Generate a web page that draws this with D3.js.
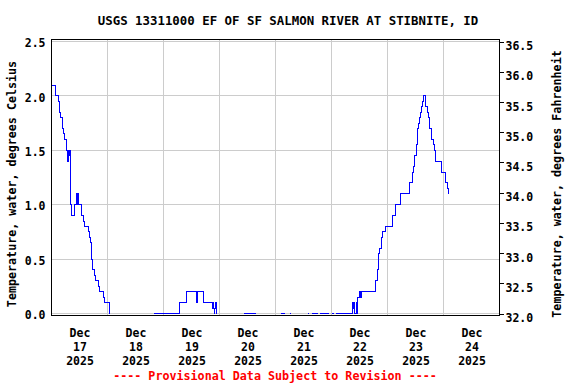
<!DOCTYPE html>
<html>
<head>
<meta charset="utf-8">
<script src="https://cdn.jsdelivr.net/npm/d3@7"></script>
<style>
  body { margin: 0; background: #fff; }
  svg text { font-family: "DejaVu Sans Mono", monospace; font-weight: bold; }
</style>
</head>
<body>
<svg width="576" height="384"></svg>
<script>
// water temperature, 15-min readings (null = gap in record)
var times = [
  "12-17 00:00","12-17 01:45","12-17 03:00","12-17 03:30","12-17 04:00","12-17 04:30","12-17 04:45","12-17 05:15",
  "12-17 05:45","12-17 06:30","12-17 06:45","12-17 07:00","12-17 07:15","12-17 07:30","12-17 07:45","12-17 08:00",
  "12-17 08:15","12-17 08:30","12-17 09:45","12-17 10:00","12-17 10:45","12-17 11:00","12-17 11:15","12-17 11:30",
  "12-17 11:45","12-17 13:00","12-17 13:45","12-17 14:15","12-17 15:45","12-17 16:15","12-17 16:30","12-17 17:00",
  "12-17 17:15","12-17 17:45","12-17 18:30","12-17 19:00","12-17 20:00","12-17 20:30","12-17 22:15","12-17 22:30",
  "12-18 00:45","12-18 01:00","12-18 01:15","12-18 01:30",
  "12-18 19:45","12-19 07:00","12-19 09:45","12-19 14:00","12-19 14:15","12-19 14:30","12-19 14:45","12-19 17:15",
  "12-19 21:00","12-19 21:15","12-19 21:30","12-19 21:45","12-19 22:00","12-19 22:15","12-19 22:30","12-19 22:45","12-19 23:00",
  "12-20 10:30","12-20 15:45","12-20 16:00",
  "12-21 02:30","12-21 04:15","12-21 04:30",
  "12-21 06:00","12-21 06:30","12-21 06:45",
  "12-21 14:00","12-21 14:15","12-21 14:30",
  "12-21 15:45","12-21 18:00","12-21 18:15",
  "12-21 19:00","12-21 22:45","12-21 23:00",
  "12-22 00:00","12-22 01:00","12-22 01:15",
  "12-22 02:00","12-22 09:00","12-22 09:15","12-22 09:30","12-22 09:45","12-22 10:00","12-22 10:30","12-22 10:45",
  "12-22 11:00","12-22 12:00","12-22 12:15","12-22 12:30","12-22 12:45","12-22 13:00","12-22 19:00","12-22 19:30",
  "12-22 19:45","12-22 20:15","12-22 20:30","12-22 21:15","12-22 22:00","12-22 23:00","12-23 02:00","12-23 03:30",
  "12-23 05:30","12-23 09:30","12-23 10:45","12-23 11:15","12-23 11:45","12-23 12:15","12-23 12:45","12-23 13:15",
  "12-23 13:45","12-23 14:00","12-23 14:30","12-23 15:00","12-23 15:15","12-23 16:15","12-23 17:00","12-23 17:30",
  "12-23 18:00","12-23 18:45","12-23 19:30","12-23 20:00","12-23 20:30","12-23 23:15","12-24 01:00","12-24 01:30",
  "12-24 02:15"
];
var tempC = [
  2.1, 2.0, 1.95, 1.85, 1.8, 1.75, 1.7, 1.65,
  1.6, 1.5, 1.45, 1.4, 1.5, 1.45, 1.5, 1.15,
  1.0, 0.9, 0.95, 1.0, 1.1, 1.0, 1.1, 1.05,
  1.0, 0.9, 0.85, 0.8, 0.75, 0.7, 0.65, 0.6,
  0.5, 0.4, 0.35, 0.3, 0.25, 0.2, 0.15, 0.1,
  0.05, 0.0, 0.0, null,
  0.0, 0.1, 0.2, 0.1, 0.2, 0.1, 0.2, 0.1,
  0.05, 0.1, 0.05, 0.0, 0.05, 0.1, 0.0, 0.0, null,
  0.0, 0.0, null,
  0.0, 0.0, null,
  0.0, 0.0, null,
  0.0, 0.0, null,
  0.0, 0.0, null,
  0.0, 0.0, null,
  0.0, 0.0, null,
  0.0, 0.1, 0.05, 0.1, 0.05, 0.0, 0.1, 0.0,
  0.15, 0.2, 0.15, 0.2, 0.15, 0.2, 0.3, 0.35,
  0.4, 0.55, 0.6, 0.7, 0.75, 0.8, 0.9, 1.0,
  1.1, 1.2, 1.3, 1.35, 1.45, 1.55, 1.7, 1.75,
  1.8, 1.85, 1.9, 1.95, 2.0, 1.9, 1.85, 1.8,
  1.7, 1.6, 1.55, 1.5, 1.4, 1.3, 1.2, 1.15,
  1.1
];
var dayLabels = ["12-17","12-18","12-19","12-20","12-21","12-22","12-23","12-24"];
var celsiusTicks = [0, 0.5, 1.0, 1.5, 2.0, 2.5];
var fahrenheitTicks = [32, 32.5, 33, 33.5, 34, 34.5, 35, 35.5, 36, 36.5];

var title = "USGS 13311000 EF OF SF SALMON RIVER AT STIBNITE, ID";
var leftLabel = "Temperature, water, degrees Celsius";
var rightLabel = "Temperature, water, degrees Fahrenheit";
var footer = "---- Provisional Data Subject to Revision ----";

var parse = d3.utcParse("%Y-%m-%d %H:%M");
var data = times.map(function(t, i) { return {t: parse("2025-" + t), v: tempC[i]}; });

var svg = d3.select("svg");
var plotL = 51.5, plotR = 499.5, plotT = 39.5, plotB = 315.5;

var x = d3.scaleUtc()
    .domain([parse("2025-12-17 00:00"), parse("2025-12-25 00:00")])
    .range([plotL, plotR]);
var y = d3.scaleLinear().domain([0, 2.5]).range([313.5, 41.5]);
var yF = d3.scaleLinear().domain([32, 36.5]).range([313.5, 41.5]);

// grid
var grid = svg.append("g").attr("stroke", "#cccccc").attr("shape-rendering", "crispEdges");
grid.selectAll("line.h")
    .data(celsiusTicks)
    .enter().append("line")
    .attr("x1", plotL).attr("x2", plotR)
    .attr("y1", function(d) { return y(d); }).attr("y2", function(d) { return y(d); });
grid.selectAll("line.v")
    .data(d3.utcDay.range(parse("2025-12-18 00:00"), parse("2025-12-25 00:00")))
    .enter().append("line")
    .attr("y1", plotT).attr("y2", plotB)
    .attr("x1", function(d) { return x(d); }).attr("x2", function(d) { return x(d); });

// data line
var line = d3.line()
    .defined(function(d) { return d.v !== null; })
    .x(function(d) { return x(d.t); })
    .y(function(d) { return y(d.v); })
    .curve(d3.curveStepAfter);

svg.append("path")
    .datum(data)
    .attr("fill", "none")
    .attr("stroke", "#0000ff")
    .attr("stroke-width", 1)
    .attr("shape-rendering", "crispEdges")
    .attr("d", line);

// frame
svg.append("rect")
    .attr("x", plotL).attr("y", plotT)
    .attr("width", plotR - plotL).attr("height", plotB - plotT)
    .attr("fill", "none").attr("stroke", "#000")
    .attr("shape-rendering", "crispEdges");

// left axis
var gl = svg.append("g")
    .attr("transform", "translate(" + plotL + ",0)")
    .call(d3.axisLeft(y).tickValues(celsiusTicks).tickFormat(d3.format(".1f")).tickSize(0).tickPadding(6));
gl.select(".domain").remove();
gl.selectAll("text").attr("font-size", 11.5).attr("dy", "0.45em").attr("fill", "#000");

// right axis
var gr = svg.append("g")
    .attr("transform", "translate(" + plotR + ",0)")
    .call(d3.axisRight(yF).tickValues(fahrenheitTicks).tickFormat(d3.format(".1f")).tickSize(4).tickPadding(2));
gr.select(".domain").remove();
gr.selectAll("line").attr("stroke", "#000").attr("shape-rendering", "crispEdges");
gr.selectAll("text").attr("font-size", 11.5).attr("dy", "0.7em").attr("fill", "#000");

// bottom axis: day labels at noon
var gb = svg.append("g")
    .attr("transform", "translate(0," + plotB + ")")
    .call(d3.axisBottom(x)
        .tickValues(dayLabels.map(function(d) { return parse("2025-" + d + " 12:00"); }))
        .tickSize(0).tickFormat(""));
gb.select(".domain").remove();
gb.selectAll(".tick text").remove();
gb.selectAll(".tick").each(function(d) {
  var t = d3.select(this).append("text")
      .attr("fill", "#000").attr("font-size", 11.5).attr("text-anchor", "middle");
  [d3.utcFormat("%b")(d), d3.utcFormat("%d")(d), d3.utcFormat("%Y")(d)].forEach(function(s, i) {
    t.append("tspan").attr("x", 0).attr("y", 21.5 + i * 14).text(s);
  });
});

// titles
svg.append("text")
    .attr("x", 288).attr("y", 25)
    .attr("text-anchor", "middle").attr("font-size", 12.4)
    .text(title);

svg.append("text")
    .attr("transform", "translate(16,184) rotate(-90)")
    .attr("text-anchor", "middle").attr("font-size", 11.7)
    .text(leftLabel);

svg.append("text")
    .attr("transform", "translate(561,184) rotate(-90)")
    .attr("text-anchor", "middle").attr("font-size", 11.7)
    .text(rightLabel);

svg.append("text")
    .attr("x", 275).attr("y", 380)
    .attr("text-anchor", "middle").attr("font-size", 11.7)
    .attr("fill", "#ff0000")
    .text(footer);
</script>
</body>
</html>
